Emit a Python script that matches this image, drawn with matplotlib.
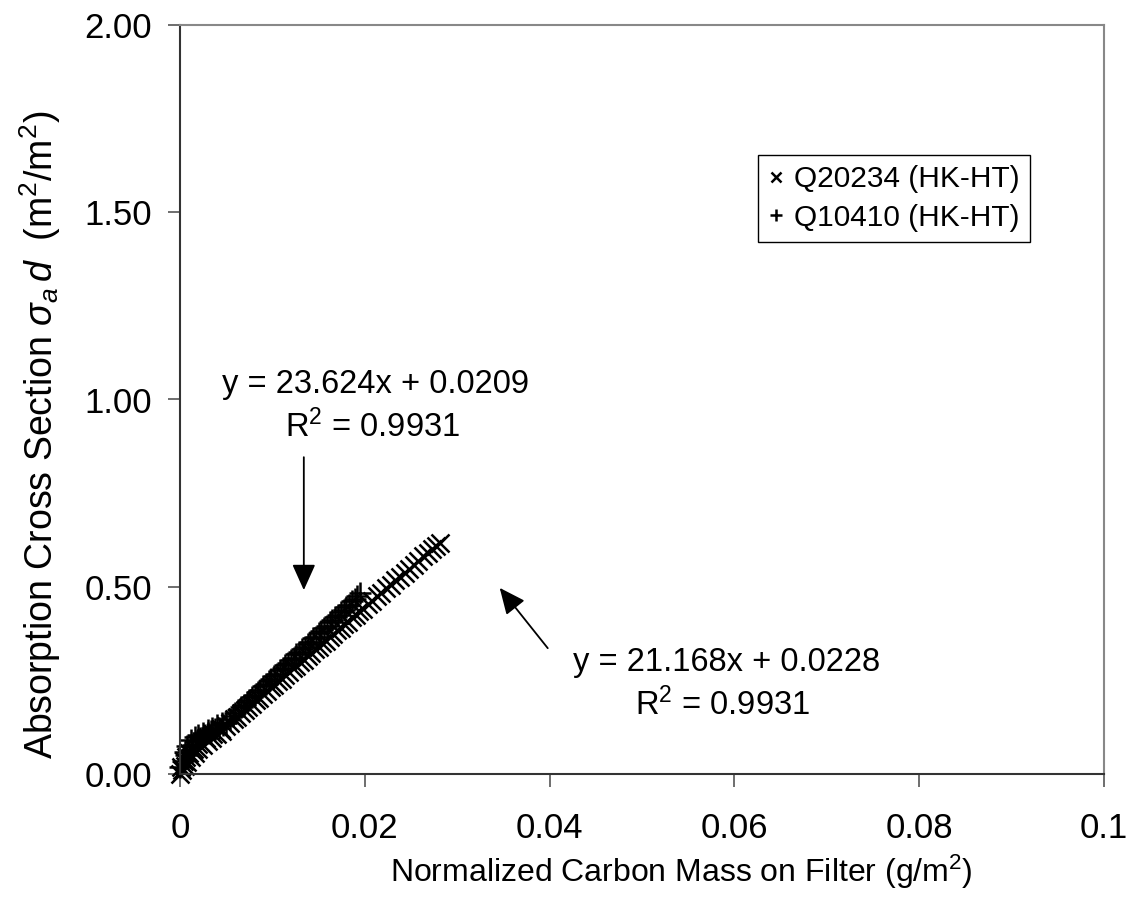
import matplotlib
matplotlib.use("Agg")
import matplotlib.pyplot as plt

plt.rcParams["font.family"] = ["Liberation Sans", "DejaVu Sans"]
plt.rcParams["mathtext.fontset"] = "custom"
plt.rcParams["mathtext.rm"] = "Liberation Sans"
plt.rcParams["mathtext.it"] = "Liberation Sans:italic"

# Q10410 (HK-HT), "+" markers, steeper series
x_q10410 = [0.0000, 0.0003, 0.0006, 0.0010, 0.0014, 0.0018, 0.0022, 0.0026, 0.0030, 0.0034,
            0.0038, 0.0042, 0.0046, 0.0050, 0.0054, 0.0057, 0.0060, 0.0063, 0.0066, 0.0069,
            0.0072, 0.0075, 0.0078, 0.0081, 0.0084, 0.0087, 0.0090, 0.0093, 0.0096, 0.0099,
            0.0102, 0.0105, 0.0108, 0.0111, 0.0114, 0.0117, 0.0120, 0.0123, 0.0126, 0.0129,
            0.0132, 0.0135, 0.0138, 0.0141, 0.0144, 0.0147, 0.0150, 0.0153, 0.0156, 0.0159,
            0.0162, 0.0165, 0.0168, 0.0171, 0.0174, 0.0177, 0.0180, 0.0183, 0.0186, 0.0189,
            0.0192, 0.0195,
            0.0005, 0.0008, 0.0012, 0.0016, 0.0020, 0.0025, 0.0030, 0.0035, 0.0040, 0.0045]
y_q10410 = [0.020, 0.035, 0.050, 0.065, 0.078, 0.088, 0.096, 0.103, 0.109, 0.114,
            0.119, 0.124, 0.130, 0.137, 0.147, 0.155, 0.164, 0.170, 0.178, 0.183,
            0.192, 0.197, 0.206, 0.211, 0.220, 0.225, 0.235, 0.240, 0.249, 0.254,
            0.263, 0.268, 0.277, 0.282, 0.291, 0.296, 0.305, 0.311, 0.320, 0.325,
            0.334, 0.339, 0.348, 0.353, 0.362, 0.367, 0.376, 0.381, 0.390, 0.396,
            0.405, 0.410, 0.419, 0.424, 0.433, 0.438, 0.447, 0.452, 0.461, 0.466,
            0.475, 0.482,
            0.060, 0.075, 0.090, 0.098, 0.105, 0.110, 0.118, 0.123, 0.130, 0.135]

# Q20234 (HK-HT), "x" markers, longer series
x_q20234 = [0.0000, 0.0002, 0.0005, 0.0008, 0.0012, 0.0016, 0.0020, 0.0025, 0.0030, 0.0035,
            0.0040, 0.0045, 0.0050, 0.0054, 0.0058, 0.0062, 0.0066, 0.0070, 0.0074, 0.0078,
            0.0082, 0.0086, 0.0090, 0.0094, 0.0098, 0.0102, 0.0106, 0.0110, 0.0114, 0.0118,
            0.0122, 0.0126, 0.0130, 0.0134, 0.0138, 0.0142, 0.0146, 0.0150, 0.0154, 0.0158,
            0.0162, 0.0166, 0.0170, 0.0174, 0.0178, 0.0182, 0.0186, 0.0190, 0.0194, 0.0198,
            0.0203, 0.0208, 0.0213, 0.0218, 0.0223, 0.0228, 0.0233, 0.0238, 0.0243, 0.0248,
            0.0253, 0.0258, 0.0263, 0.0268, 0.0273, 0.0277, 0.0281,
            0.0001, 0.0004, 0.0007, 0.0010, 0.0015, 0.0020, 0.0028, 0.0036, 0.0044]
y_q20234 = [0.000, 0.012, 0.022, 0.033, 0.045, 0.057, 0.067, 0.078, 0.088, 0.097,
            0.106, 0.116, 0.129, 0.136, 0.146, 0.153, 0.163, 0.170, 0.180, 0.187,
            0.197, 0.204, 0.214, 0.221, 0.231, 0.238, 0.248, 0.255, 0.265, 0.272,
            0.282, 0.289, 0.299, 0.305, 0.316, 0.322, 0.333, 0.339, 0.350, 0.356,
            0.367, 0.373, 0.384, 0.390, 0.401, 0.407, 0.418, 0.424, 0.434, 0.441,
            0.454, 0.462, 0.475, 0.483, 0.496, 0.504, 0.517, 0.526, 0.538, 0.547,
            0.559, 0.568, 0.581, 0.589, 0.602, 0.608, 0.618,
            0.020, 0.035, 0.045, 0.055, 0.068, 0.080, 0.095, 0.108, 0.120]

x_ticks = [0, 0.02, 0.04, 0.06, 0.08, 0.1]
x_tick_labels = ["0", "0.02", "0.04", "0.06", "0.08", "0.1"]
y_ticks = [0.0, 0.5, 1.0, 1.5, 2.0]
y_tick_labels = ["0.00", "0.50", "1.00", "1.50", "2.00"]

fig = plt.figure(figsize=(11.32, 9.21), dpi=100)
ax = fig.add_axes([180 / 1132, 1 - 774 / 921, 924 / 1132, 749 / 921])

ax.plot(x_q20234, y_q20234, linestyle="none", marker="x", markersize=13,
        markeredgewidth=1.8, color="black", clip_on=False, label="Q20234 (HK-HT)")
ax.plot(x_q10410, y_q10410, linestyle="none", marker="+", markersize=16,
        markeredgewidth=1.8, color="black", clip_on=False, label="Q10410 (HK-HT)")

ax.set_xlim(0, 0.1)
ax.set_ylim(0, 2.0)
ax.set_xticks(x_ticks)
ax.set_xticklabels(x_tick_labels)
ax.set_yticks(y_ticks)
ax.set_yticklabels(y_tick_labels)
ax.tick_params(direction="out", length=9, width=1.2, labelsize=25, color="#555555")
ax.tick_params(axis="x", pad=18)
ax.tick_params(axis="y", pad=11)

for side in ["left", "bottom"]:
    ax.spines[side].set_color("#333333")
    ax.spines[side].set_linewidth(1.5)
for side in ["top", "right"]:
    ax.spines[side].set_color("#888888")
    ax.spines[side].set_linewidth(1.5)

ax.set_xlabel("Normalized Carbon Mass on Filter (g/m$^2$)", fontsize=23, va="center")
ax.xaxis.set_label_coords(0.543, -0.130)
ax.set_ylabel(r"Absorption Cross Section $\sigma_a\, d$  (m$^2$/m$^2$)", fontsize=27, va="center")
ax.yaxis.set_label_coords(-0.1515, 0.4526)

# trend line labels and arrows
ax.text(0.0212, 1.039, "y = 23.624x + 0.0209", fontsize=23.5, ha="center", va="center")
ax.text(0.0208, 0.927, "R$^2$ = 0.9931", fontsize=23.5, ha="center", va="center")
ax.text(0.0591, 0.299, "y = 21.168x + 0.0228", fontsize=23.5, ha="center", va="center")
ax.text(0.0587, 0.184, "R$^2$ = 0.9931", fontsize=23.5, ha="center", va="center")

arrow = dict(arrowstyle="-|>,head_length=1.0,head_width=0.45", mutation_scale=16,
             lw=1.3, color="black", shrinkA=0, shrinkB=0)
ax.annotate("", xy=(0.0134, 0.491), xytext=(0.0134, 0.846), arrowprops=arrow)
ax.annotate("", xy=(0.0346, 0.497), xytext=(0.0398, 0.336), arrowprops=arrow)

leg = ax.legend(loc="upper right", bbox_to_anchor=(1030 / 1132, 1 - 155 / 921),
                bbox_transform=fig.transFigure, fontsize=21.5, frameon=True, fancybox=False,
                framealpha=1, edgecolor="black", borderaxespad=0, borderpad=0.35,
                handlelength=0.5, handletextpad=0.35, labelspacing=0.35, markerscale=0.5)
leg.get_frame().set_linewidth(1.0)

fig.savefig("out.png", dpi=100)
plt.close(fig)
